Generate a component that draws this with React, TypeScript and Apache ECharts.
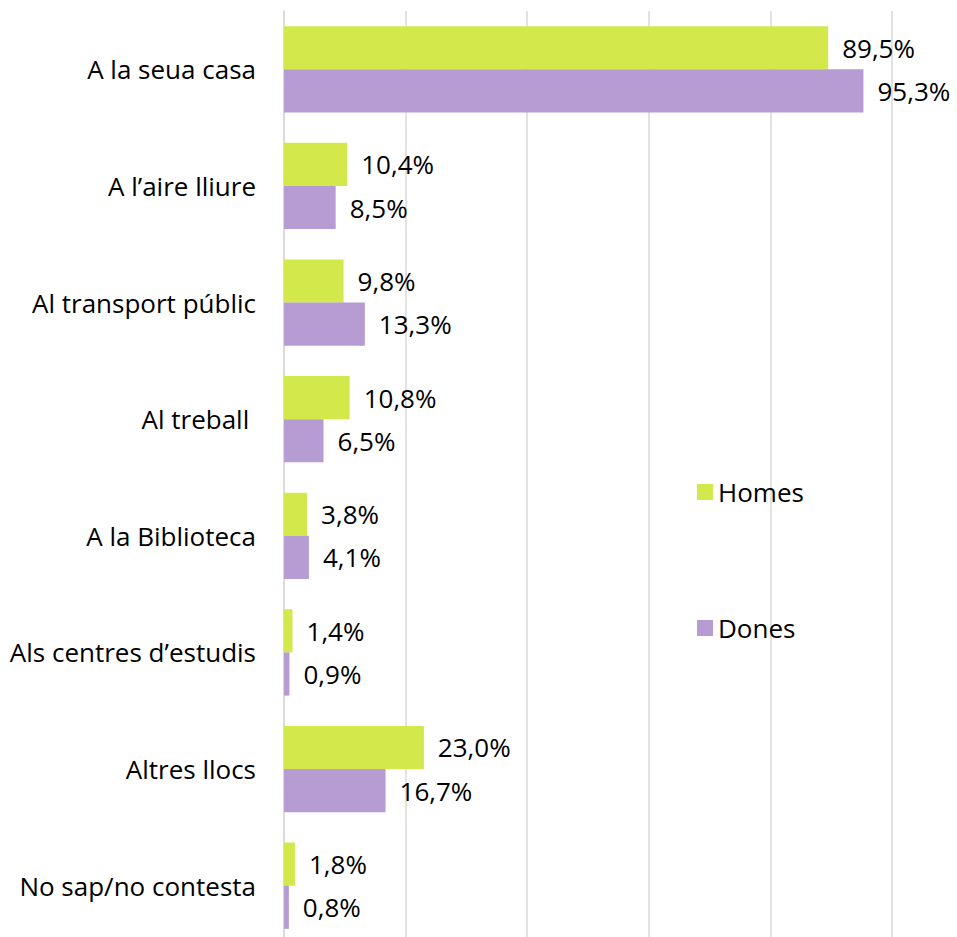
import React, { useEffect, useRef } from "react";
import * as echarts from "echarts";

const categories = [
  "A la seua casa",
  "A l’aire lliure",
  "Al transport públic",
  "Al treball ",
  "A la Biblioteca",
  "Als centres d’estudis",
  "Altres llocs",
  "No sap/no contesta",
];
const homes = [89.5, 10.4, 9.8, 10.8, 3.8, 1.4, 23.0, 1.8];
const dones = [95.3, 8.5, 13.3, 6.5, 4.1, 0.9, 16.7, 0.8];
const seriesNames = ["Homes", "Dones"];

const FONT = "Open Sans";
const fmt = (v: number) => v.toFixed(1).replace(".", ",") + "%";

export default function App() {
  const ref = useRef<HTMLDivElement>(null);
  useEffect(() => {
    document.body.style.margin = "0";
    const chart = echarts.init(ref.current!, null, { renderer: "svg" });
    const label = {
      show: true,
      position: "right" as const,
      distance: 14,
      fontFamily: FONT,
      fontSize: 26,
      color: "#000",
      formatter: (p: any) => fmt(p.value),
    };
    chart.setOption({
      animation: false,
      backgroundColor: "#fff",
      textStyle: { fontFamily: FONT },
      grid: {
        left: 284,
        width: 608,
        top: 11,
        height: 933,
        containLabel: false,
        outerBoundsMode: "none",
      },
      legend: {
        orient: "vertical",
        left: 692,
        top: 474,
        itemWidth: 16,
        itemHeight: 16,
        itemGap: 110,
        icon: "rect",
        textStyle: { fontFamily: FONT, fontSize: 26, color: "#000" },
        data: seriesNames,
      },
      xAxis: {
        type: "value",
        min: 0,
        max: 100,
        interval: 20,
        axisLabel: { show: false },
        axisLine: { show: false },
        axisTick: { show: false },
        splitLine: { lineStyle: { color: "#d9d9d9", width: 1.5 } },
      },
      yAxis: {
        type: "category",
        inverse: true,
        data: categories,
        axisTick: { show: false },
        axisLine: { lineStyle: { color: "#d9d9d9", width: 1.5 } },
        axisLabel: { fontFamily: FONT, fontSize: 26, color: "#000", margin: 28 },
      },
      series: [
        {
          name: seriesNames[0],
          type: "bar",
          data: homes,
          itemStyle: { color: "#d2e84b" },
          barGap: "0%",
          barCategoryGap: "26%",
          label,
        },
        {
          name: seriesNames[1],
          type: "bar",
          data: dones,
          itemStyle: { color: "#b79cd3" },
          barGap: "0%",
          barCategoryGap: "26%",
          label,
        },
      ],
    });
    return () => chart.dispose();
  }, []);
  return (
    <div
      ref={ref}
      style={{ position: "absolute", left: 0, top: 0, width: 957, height: 937 }}
    />
  );
}
